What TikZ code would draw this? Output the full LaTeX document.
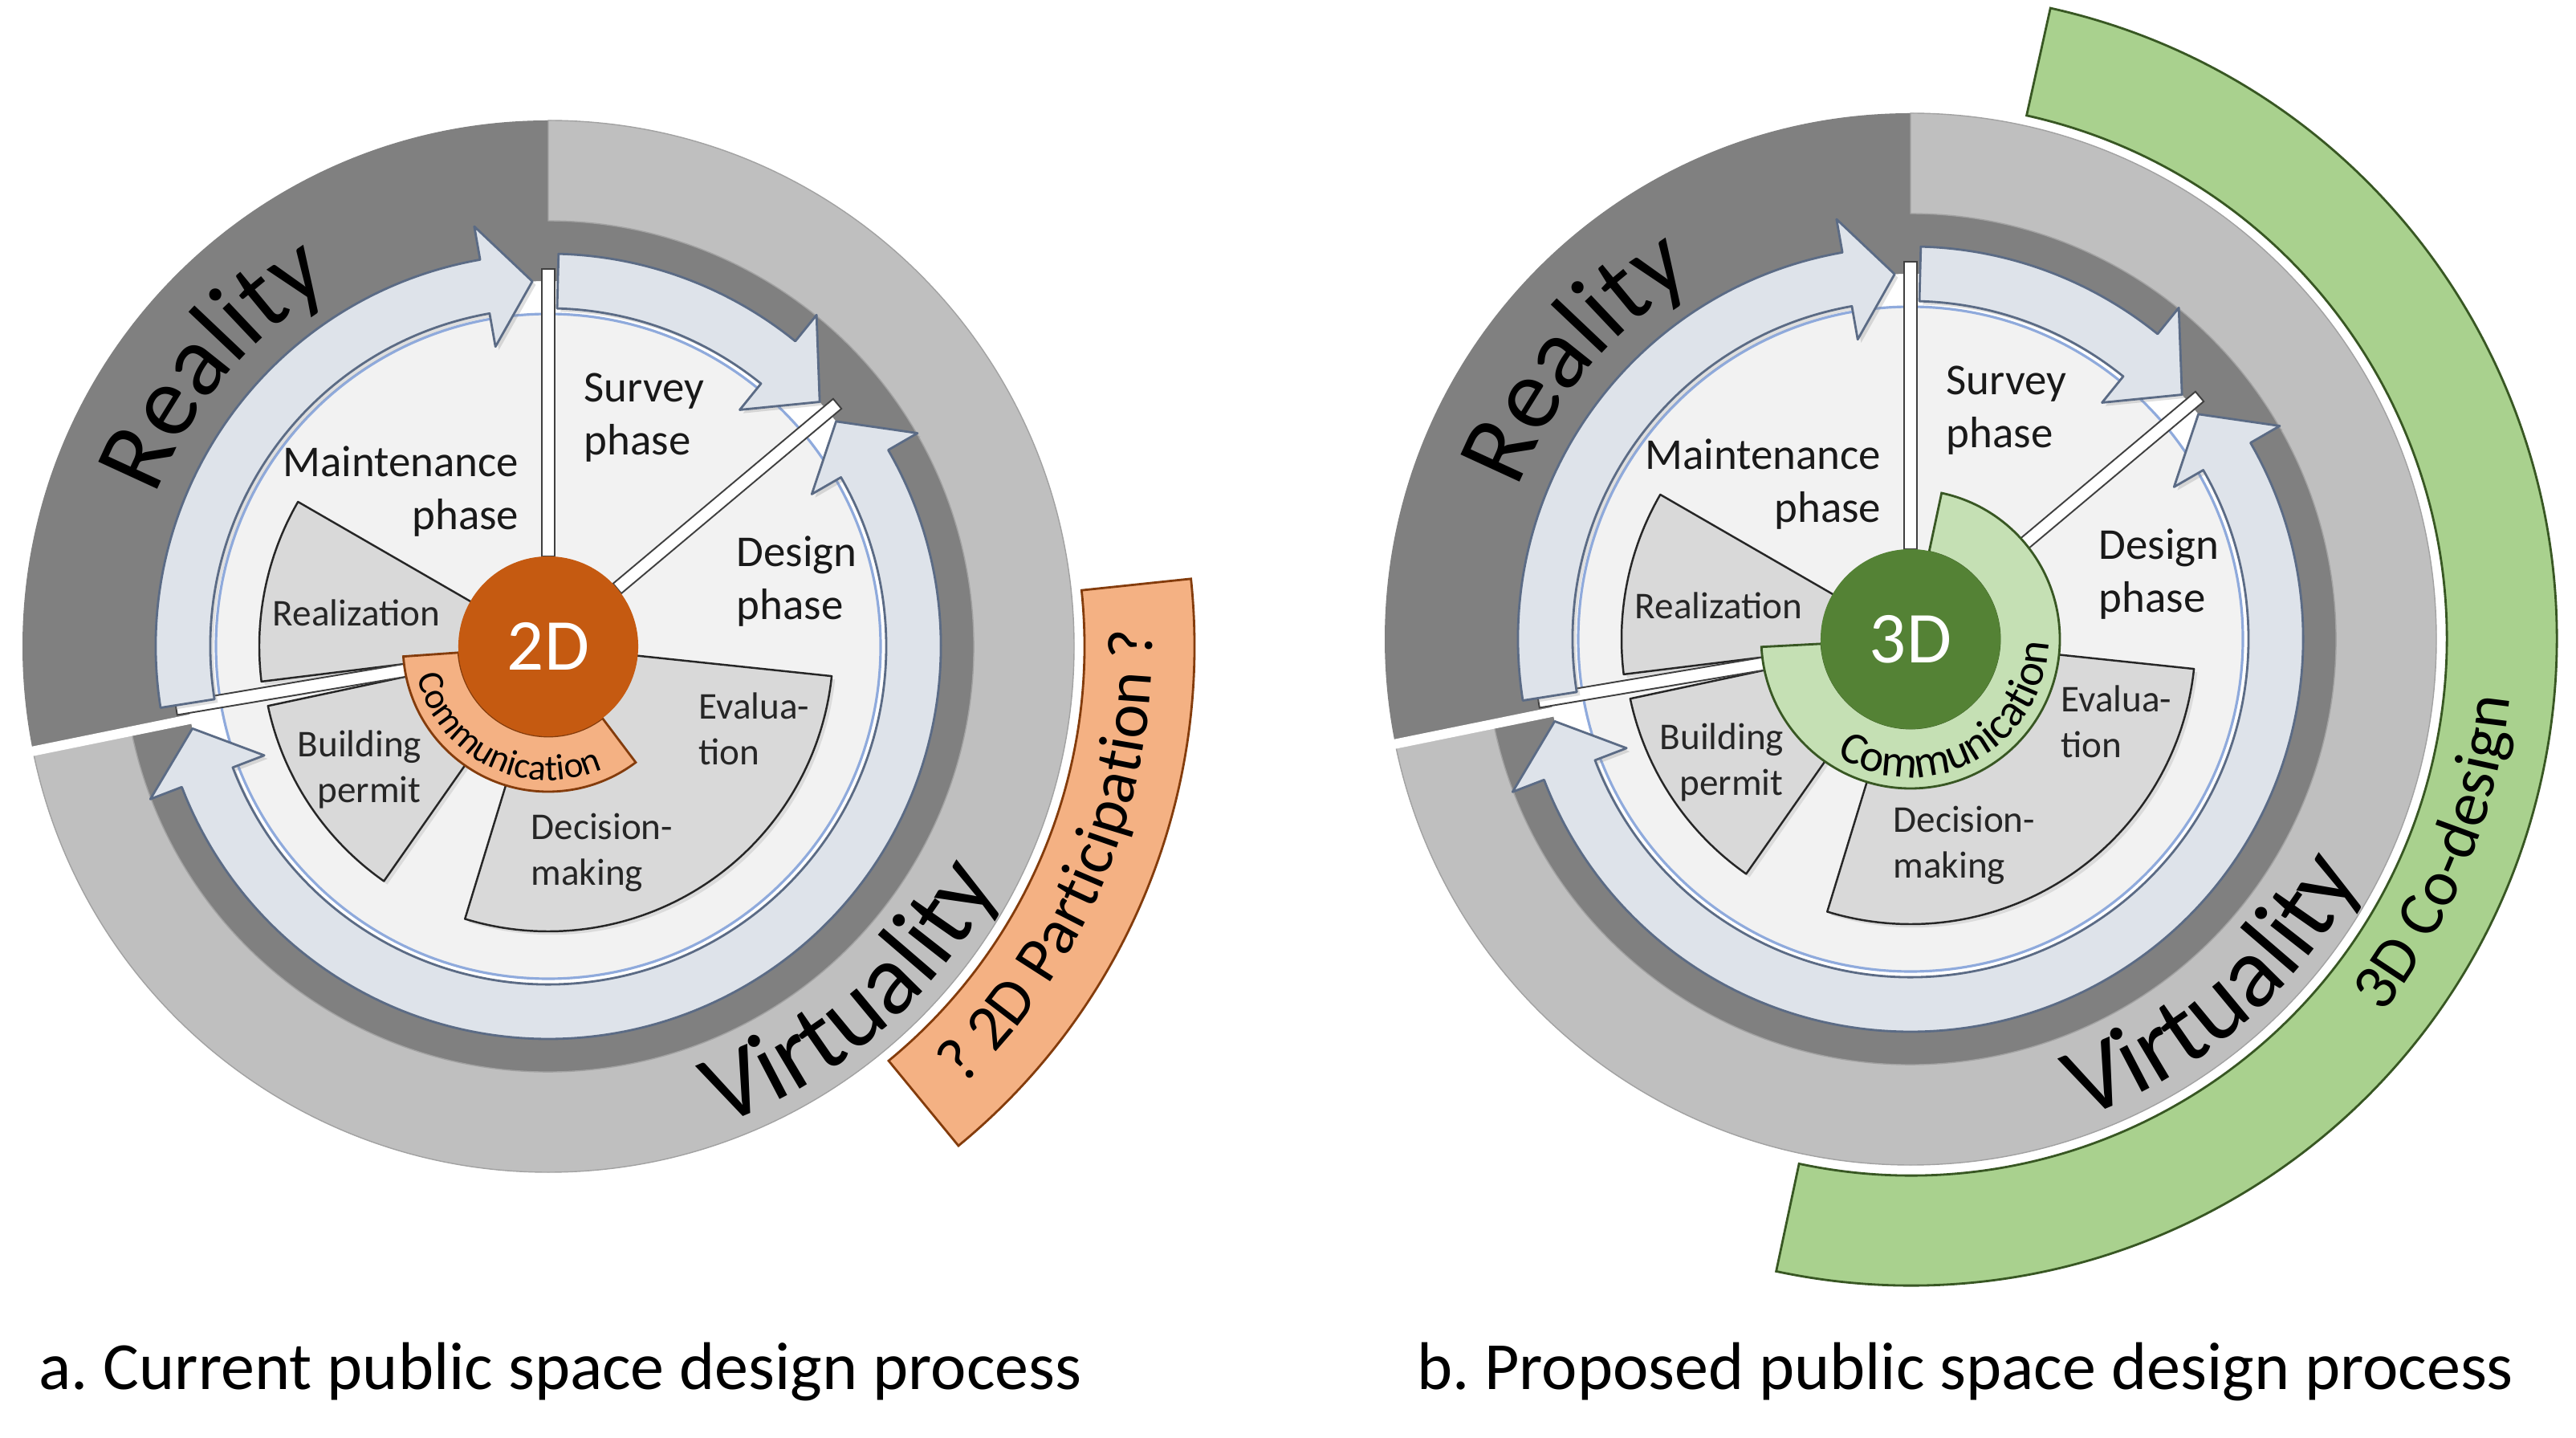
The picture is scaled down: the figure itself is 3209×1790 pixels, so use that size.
\documentclass[tikz,border=0pt]{standalone}
\usepackage{fontspec}
\setmainfont{Carlito}
\usetikzlibrary{decorations.text,shadows}

\definecolor{darkring}{HTML}{808080}
\definecolor{lightring}{HTML}{BFBFBF}
\definecolor{arrowfill}{HTML}{DEE3EA}
\definecolor{arrowline}{HTML}{5B6B85}
\definecolor{diskfill}{HTML}{F2F2F2}
\definecolor{diskline}{HTML}{8FAADC}
\definecolor{subfill}{HTML}{D9D9D9}
\definecolor{orangedark}{HTML}{C55A11}
\definecolor{orangelight}{HTML}{F4B183}
\definecolor{orangeline}{HTML}{843C0C}
\definecolor{greendark}{HTML}{548235}
\definecolor{greenlight}{HTML}{C5E0B4}
\definecolor{greenmid}{HTML}{A9D18E}
\definecolor{greenline}{HTML}{385723}

\newcommand\fphase{\fontsize{15.6pt}{18.8pt}\selectfont}
\newcommand\fsub{\fontsize{13.4pt}{16.2pt}\selectfont}
\newcommand\fbig{\fontsize{35.8pt}{40pt}\selectfont}
\newcommand\fband{\fontsize{22.8pt}{26pt}\selectfont}
\newcommand\fcap{\fontsize{23.9pt}{28pt}\selectfont}
\newcommand\fcore{\fontsize{25.9pt}{30pt}\selectfont}
\newcommand\fcommS{\fontsize{13pt}{15pt}\selectfont}
\newcommand\fcommL{\fontsize{16pt}{18pt}\selectfont}

\newcommand\annsec[5]{\path[#1] (#4:#3) arc[start angle=#4,end angle=#5,radius=#3] -- (#5:#2) arc[start angle=#5,end angle=#4,radius=#2] -- cycle;}
\newcommand\piesec[4]{\path[#1] (0,0) -- (#3:#2) arc[start angle=#3,end angle=#4,radius=#2] -- cycle;}
\newcommand\cwarrow[3]{\path[cyclearrow] (#1:489) arc[start angle=#1,end angle=#2,radius=489] -- (#2:531) -- (#3:455) -- (#2:379) -- (#2:421) arc[start angle=#2,end angle=#1,radius=421] -- cycle;}
\newcommand\sepstrip[1]{\path[separator, rotate=#1] (112,-8) rectangle (470,8);}

\tikzset{
 darkband/.style={fill=darkring},
 lightband/.style={fill=lightring, draw=lightring!85!black, line width=0.4pt},
 disk/.style={fill=diskfill, draw=diskline, line width=0.9pt},
 cyclearrow/.style={fill=arrowfill, draw=arrowline, line width=0.8pt, line join=round,
   drop shadow={shadow xshift=1.2pt, shadow yshift=-1.2pt, opacity=0.25}},
 subsector/.style={fill=subfill, draw=black!85, line width=0.7pt, line join=round,
   drop shadow={shadow xshift=1.2pt, shadow yshift=-1.2pt, opacity=0.2}},
 separator/.style={fill=white, draw=black!75, line width=0.55pt},
 phaselabel/.style={font=\fphase, inner sep=0pt, text=black!90},
 sublabel/.style={font=\fsub, inner sep=0pt, text=black!85},
 caption/.style={font=\fcap, inner sep=0pt},
 corecircle/.style={circle, minimum size=2.24cm, inner sep=0pt, font=\fcore, text=white},
}

\newcommand\cyclebase[1]{%
 \path[darkband, even odd rule] (0,0) circle[radius=655] (0,0) circle[radius=455];
 \annsec{lightband}{530}{655}{90}{-168.5}
 \draw[white, line width=3.4pt] (191.5:425) -- (191.5:670);
 \path[disk] (0,0) circle[radius=414];
 \piesec{subsector}{360}{150}{187}
 \piesec{subsector}{357}{192}{235}
 \piesec{subsector}{355}{-107}{-6}
 \sepstrip{90}
 \sepstrip{40}
 \sepstrip{189.5}
 \cwarrow{189}{100}{92.5}
 \cwarrow{88.5}{51}{42}
 \path[cyclearrow] (30:489) arc[start angle=30,end angle=-159,radius=489] -- (-159:531) -- (-167:455) -- (-159:379) -- (-159:421) arc[start angle=-159,end angle=30,radius=421] -- (30:379) -- (38:455) -- (30:531) -- cycle;
 \node[phaselabel, anchor=east, align=right] (#1-maint) at (-36,193) {Maintenance\\phase};
 \node[phaselabel, anchor=west, align=left] (#1-survey) at (44,285) {Survey\\phase};
 \node[phaselabel, anchor=west, align=left] (#1-design) at (234,81) {Design\\phase};
 \node[sublabel] (#1-real) at (-239,42) {Realization};
 \node[sublabel, align=center] (#1-build) at (-235,-153) {Building\\\hspace*{0.5em}permit};
 \node[sublabel, anchor=west, align=left] (#1-eval) at (187,-103) {Evalua-\\tion};
 \node[sublabel, anchor=west, align=left] (#1-dec) at (-22,-257) {Decision-\\making};
 \path[decorate, decoration={text along path, text align=center, text={|\fbig|Reality}}] (175:524) arc[start angle=175,end angle=105,radius=524];
 \path[decorate, decoration={text along path, text align=center, text={|\fbig|Virtuality}}] (-85:634) arc[start angle=-85,end angle=-13,radius=634];
}

\begin{document}
\begin{tikzpicture}[x=0.01cm,y=0.01cm]
\useasboundingbox (0,0) rectangle (3209,1790);
\fill[white] (0,0) rectangle (3209,1790);

% ---------- a. current ----------
\begin{scope}[shift={(683,985)}]
 \annsec{fill=orangelight, draw=orangeline, line width=0.8pt}{668}{805}{6}{-50.6}
 \path[decorate, decoration={text along path, text align=center, text={|\fband|? 2D Participation ?}}] (-72:752) arc[start angle=-72,end angle=27,radius=752];
 \cyclebase{L}
 \annsec{fill=orangelight, draw=orangeline, line width=0.8pt}{112}{181}{184}{307}
 \path[decorate, decoration={text along path, text align=center, text={|\fcommS|Communication}}] (173:167) arc[start angle=173,end angle=314,radius=167];
 \node[corecircle, fill=orangedark] (L-core) at (0,0) {2D};
\end{scope}

% ---------- b. proposed ----------
\begin{scope}[shift={(2380,994)}]
 \annsec{fill=greenmid, draw=greenline, line width=0.8pt}{668}{805}{77.5}{-102}
 \path[decorate, decoration={text along path, text align=center, text={|\fband|3D Co-design}}] (-60:750) arc[start angle=-60,end angle=16,radius=750];
 \cyclebase{R}
 \annsec{fill=greenlight, draw=greenline, line width=0.8pt}{111}{186}{-177}{78}
 \path[decorate, decoration={text along path, text align=center, text={|\fcommL|Communication}}] (-132:172) arc[start angle=-132,end angle=8,radius=172];
 \node[corecircle, fill=greendark] (R-core) at (0,0) {3D};
\end{scope}

\node[caption] (capA) at (698,81) {a.\ Current public space design process};
\node[caption] (capB) at (2448,81) {b.\ Proposed public space design process};
\end{tikzpicture}
\end{document}
